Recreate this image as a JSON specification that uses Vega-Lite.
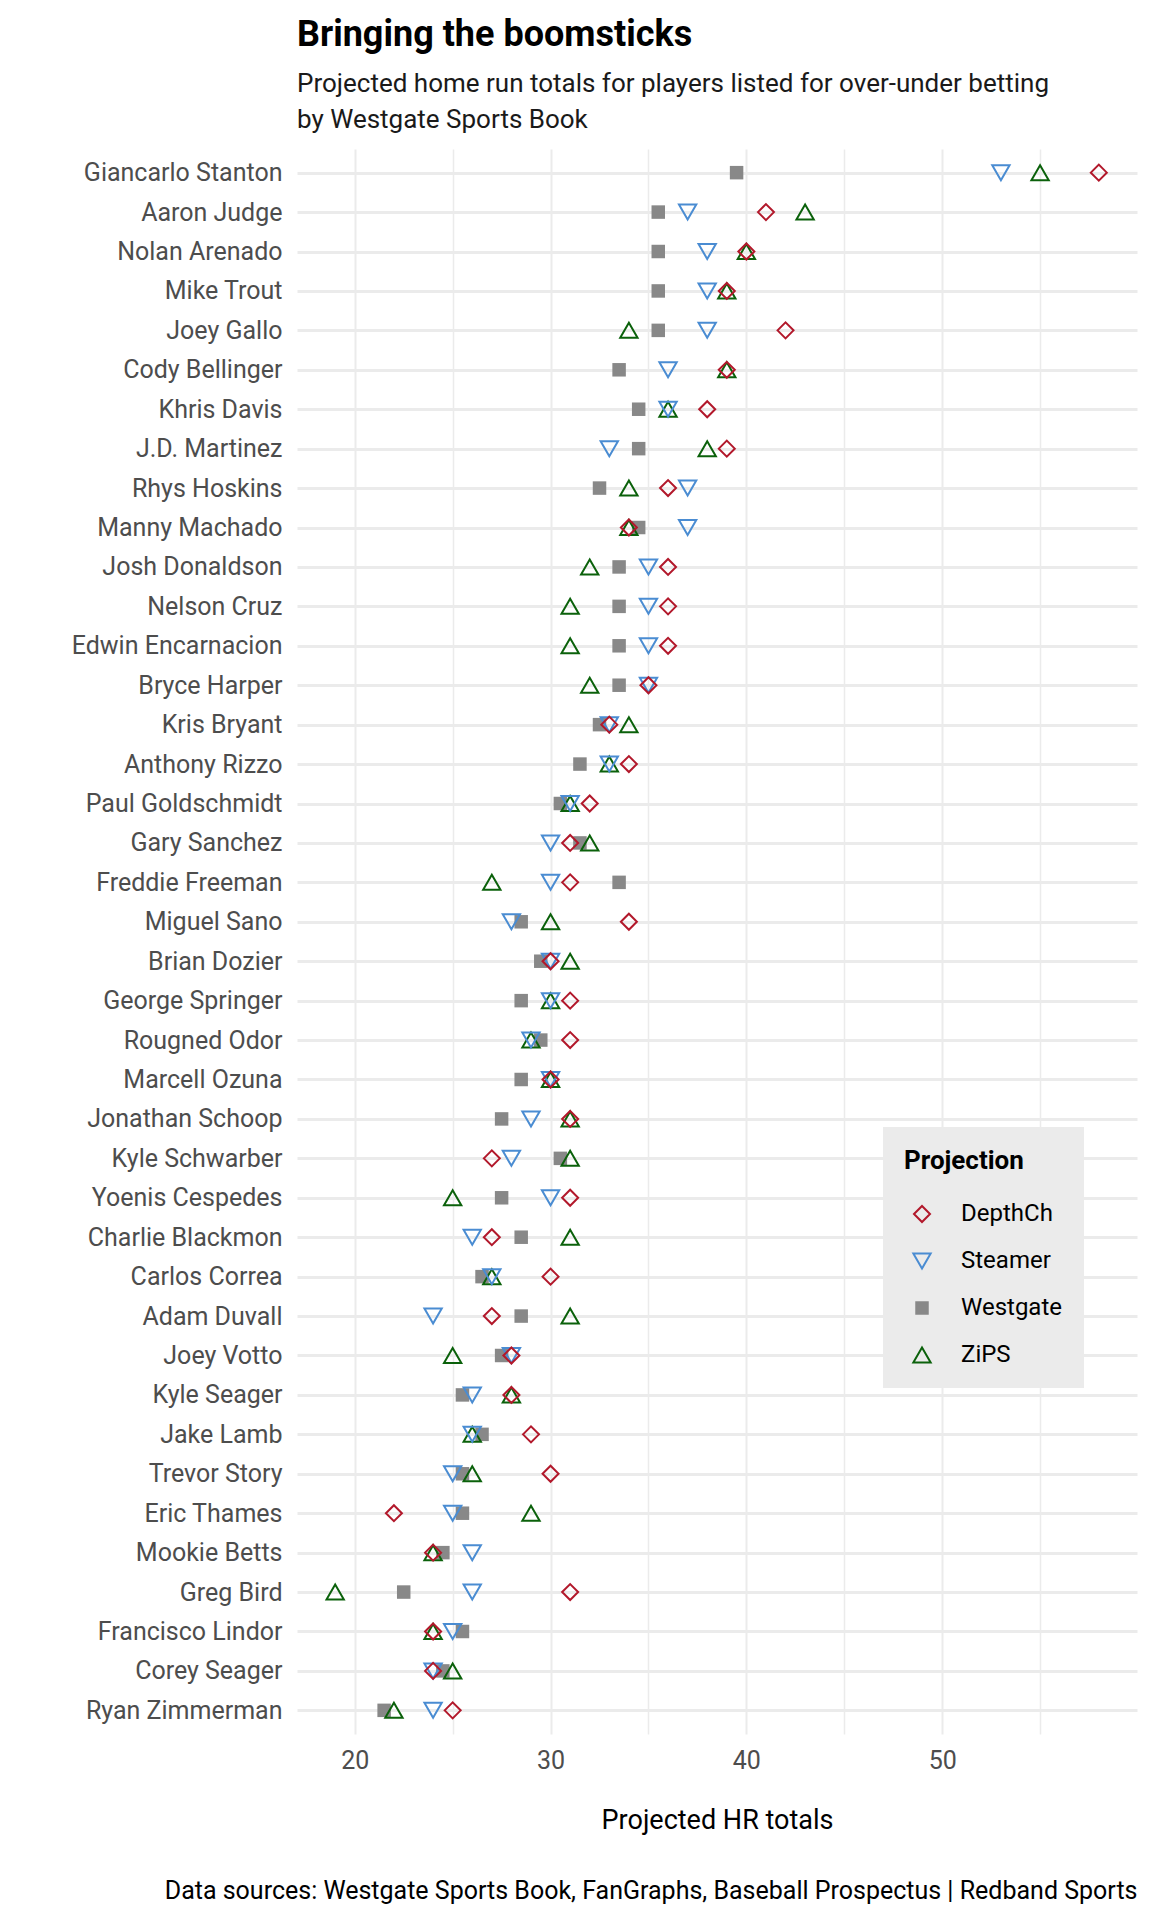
{
  "$schema": "https://vega.github.io/schema/vega-lite/v6.json",
  "width": 840,
  "height": 1585,
  "autosize": {"type": "none"},
  "padding": {"left": 297, "top": 149, "right": 15, "bottom": 186},
  "background": "white",
  "config": {
    "font": "Roboto, sans-serif",
    "view": {"stroke": null},
    "axis": {"domain": false, "ticks": false, "tickSize": 0, "labelFontSize": 25, "labelColor": "#4d4d4d", "gridColor": "#ebebeb", "labelLimit": 0}
  },
  "title": {
    "text": "Bringing the boomsticks",
    "subtitle": ["Projected home run totals for players listed for over-under betting", "by Westgate Sports Book"],
    "anchor": "start",
    "frame": "group",
    "fontSize": 36,
    "fontWeight": "bold",
    "color": "#000000",
    "subtitleFontSize": 26,
    "subtitleLineHeight": 36,
    "subtitleColor": "#1a1a1a",
    "subtitlePadding": 17,
    "offset": 15
  },
  "data": {"values": [
    {"player": "Giancarlo Stanton", "proj": "Westgate", "hr": 39.5},
    {"player": "Aaron Judge", "proj": "Westgate", "hr": 35.5},
    {"player": "Nolan Arenado", "proj": "Westgate", "hr": 35.5},
    {"player": "Mike Trout", "proj": "Westgate", "hr": 35.5},
    {"player": "Joey Gallo", "proj": "Westgate", "hr": 35.5},
    {"player": "Cody Bellinger", "proj": "Westgate", "hr": 33.5},
    {"player": "Khris Davis", "proj": "Westgate", "hr": 34.5},
    {"player": "J.D. Martinez", "proj": "Westgate", "hr": 34.5},
    {"player": "Rhys Hoskins", "proj": "Westgate", "hr": 32.5},
    {"player": "Manny Machado", "proj": "Westgate", "hr": 34.5},
    {"player": "Josh Donaldson", "proj": "Westgate", "hr": 33.5},
    {"player": "Nelson Cruz", "proj": "Westgate", "hr": 33.5},
    {"player": "Edwin Encarnacion", "proj": "Westgate", "hr": 33.5},
    {"player": "Bryce Harper", "proj": "Westgate", "hr": 33.5},
    {"player": "Kris Bryant", "proj": "Westgate", "hr": 32.5},
    {"player": "Anthony Rizzo", "proj": "Westgate", "hr": 31.5},
    {"player": "Paul Goldschmidt", "proj": "Westgate", "hr": 30.5},
    {"player": "Gary Sanchez", "proj": "Westgate", "hr": 31.5},
    {"player": "Freddie Freeman", "proj": "Westgate", "hr": 33.5},
    {"player": "Miguel Sano", "proj": "Westgate", "hr": 28.5},
    {"player": "Brian Dozier", "proj": "Westgate", "hr": 29.5},
    {"player": "George Springer", "proj": "Westgate", "hr": 28.5},
    {"player": "Rougned Odor", "proj": "Westgate", "hr": 29.5},
    {"player": "Marcell Ozuna", "proj": "Westgate", "hr": 28.5},
    {"player": "Jonathan Schoop", "proj": "Westgate", "hr": 27.5},
    {"player": "Kyle Schwarber", "proj": "Westgate", "hr": 30.5},
    {"player": "Yoenis Cespedes", "proj": "Westgate", "hr": 27.5},
    {"player": "Charlie Blackmon", "proj": "Westgate", "hr": 28.5},
    {"player": "Carlos Correa", "proj": "Westgate", "hr": 26.5},
    {"player": "Adam Duvall", "proj": "Westgate", "hr": 28.5},
    {"player": "Joey Votto", "proj": "Westgate", "hr": 27.5},
    {"player": "Kyle Seager", "proj": "Westgate", "hr": 25.5},
    {"player": "Jake Lamb", "proj": "Westgate", "hr": 26.5},
    {"player": "Trevor Story", "proj": "Westgate", "hr": 25.5},
    {"player": "Eric Thames", "proj": "Westgate", "hr": 25.5},
    {"player": "Mookie Betts", "proj": "Westgate", "hr": 24.5},
    {"player": "Greg Bird", "proj": "Westgate", "hr": 22.5},
    {"player": "Francisco Lindor", "proj": "Westgate", "hr": 25.5},
    {"player": "Corey Seager", "proj": "Westgate", "hr": 24.5},
    {"player": "Ryan Zimmerman", "proj": "Westgate", "hr": 21.5},
    {"player": "Giancarlo Stanton", "proj": "ZiPS", "hr": 55},
    {"player": "Aaron Judge", "proj": "ZiPS", "hr": 43},
    {"player": "Nolan Arenado", "proj": "ZiPS", "hr": 40},
    {"player": "Mike Trout", "proj": "ZiPS", "hr": 39},
    {"player": "Joey Gallo", "proj": "ZiPS", "hr": 34},
    {"player": "Cody Bellinger", "proj": "ZiPS", "hr": 39},
    {"player": "Khris Davis", "proj": "ZiPS", "hr": 36},
    {"player": "J.D. Martinez", "proj": "ZiPS", "hr": 38},
    {"player": "Rhys Hoskins", "proj": "ZiPS", "hr": 34},
    {"player": "Manny Machado", "proj": "ZiPS", "hr": 34},
    {"player": "Josh Donaldson", "proj": "ZiPS", "hr": 32},
    {"player": "Nelson Cruz", "proj": "ZiPS", "hr": 31},
    {"player": "Edwin Encarnacion", "proj": "ZiPS", "hr": 31},
    {"player": "Bryce Harper", "proj": "ZiPS", "hr": 32},
    {"player": "Kris Bryant", "proj": "ZiPS", "hr": 34},
    {"player": "Anthony Rizzo", "proj": "ZiPS", "hr": 33},
    {"player": "Paul Goldschmidt", "proj": "ZiPS", "hr": 31},
    {"player": "Gary Sanchez", "proj": "ZiPS", "hr": 32},
    {"player": "Freddie Freeman", "proj": "ZiPS", "hr": 27},
    {"player": "Miguel Sano", "proj": "ZiPS", "hr": 30},
    {"player": "Brian Dozier", "proj": "ZiPS", "hr": 31},
    {"player": "George Springer", "proj": "ZiPS", "hr": 30},
    {"player": "Rougned Odor", "proj": "ZiPS", "hr": 29},
    {"player": "Marcell Ozuna", "proj": "ZiPS", "hr": 30},
    {"player": "Jonathan Schoop", "proj": "ZiPS", "hr": 31},
    {"player": "Kyle Schwarber", "proj": "ZiPS", "hr": 31},
    {"player": "Yoenis Cespedes", "proj": "ZiPS", "hr": 25},
    {"player": "Charlie Blackmon", "proj": "ZiPS", "hr": 31},
    {"player": "Carlos Correa", "proj": "ZiPS", "hr": 27},
    {"player": "Adam Duvall", "proj": "ZiPS", "hr": 31},
    {"player": "Joey Votto", "proj": "ZiPS", "hr": 25},
    {"player": "Kyle Seager", "proj": "ZiPS", "hr": 28},
    {"player": "Jake Lamb", "proj": "ZiPS", "hr": 26},
    {"player": "Trevor Story", "proj": "ZiPS", "hr": 26},
    {"player": "Eric Thames", "proj": "ZiPS", "hr": 29},
    {"player": "Mookie Betts", "proj": "ZiPS", "hr": 24},
    {"player": "Greg Bird", "proj": "ZiPS", "hr": 19},
    {"player": "Francisco Lindor", "proj": "ZiPS", "hr": 24},
    {"player": "Corey Seager", "proj": "ZiPS", "hr": 25},
    {"player": "Ryan Zimmerman", "proj": "ZiPS", "hr": 22},
    {"player": "Giancarlo Stanton", "proj": "Steamer", "hr": 53},
    {"player": "Aaron Judge", "proj": "Steamer", "hr": 37},
    {"player": "Nolan Arenado", "proj": "Steamer", "hr": 38},
    {"player": "Mike Trout", "proj": "Steamer", "hr": 38},
    {"player": "Joey Gallo", "proj": "Steamer", "hr": 38},
    {"player": "Cody Bellinger", "proj": "Steamer", "hr": 36},
    {"player": "Khris Davis", "proj": "Steamer", "hr": 36},
    {"player": "J.D. Martinez", "proj": "Steamer", "hr": 33},
    {"player": "Rhys Hoskins", "proj": "Steamer", "hr": 37},
    {"player": "Manny Machado", "proj": "Steamer", "hr": 37},
    {"player": "Josh Donaldson", "proj": "Steamer", "hr": 35},
    {"player": "Nelson Cruz", "proj": "Steamer", "hr": 35},
    {"player": "Edwin Encarnacion", "proj": "Steamer", "hr": 35},
    {"player": "Bryce Harper", "proj": "Steamer", "hr": 35},
    {"player": "Kris Bryant", "proj": "Steamer", "hr": 33},
    {"player": "Anthony Rizzo", "proj": "Steamer", "hr": 33},
    {"player": "Paul Goldschmidt", "proj": "Steamer", "hr": 31},
    {"player": "Gary Sanchez", "proj": "Steamer", "hr": 30},
    {"player": "Freddie Freeman", "proj": "Steamer", "hr": 30},
    {"player": "Miguel Sano", "proj": "Steamer", "hr": 28},
    {"player": "Brian Dozier", "proj": "Steamer", "hr": 30},
    {"player": "George Springer", "proj": "Steamer", "hr": 30},
    {"player": "Rougned Odor", "proj": "Steamer", "hr": 29},
    {"player": "Marcell Ozuna", "proj": "Steamer", "hr": 30},
    {"player": "Jonathan Schoop", "proj": "Steamer", "hr": 29},
    {"player": "Kyle Schwarber", "proj": "Steamer", "hr": 28},
    {"player": "Yoenis Cespedes", "proj": "Steamer", "hr": 30},
    {"player": "Charlie Blackmon", "proj": "Steamer", "hr": 26},
    {"player": "Carlos Correa", "proj": "Steamer", "hr": 27},
    {"player": "Adam Duvall", "proj": "Steamer", "hr": 24},
    {"player": "Joey Votto", "proj": "Steamer", "hr": 28},
    {"player": "Kyle Seager", "proj": "Steamer", "hr": 26},
    {"player": "Jake Lamb", "proj": "Steamer", "hr": 26},
    {"player": "Trevor Story", "proj": "Steamer", "hr": 25},
    {"player": "Eric Thames", "proj": "Steamer", "hr": 25},
    {"player": "Mookie Betts", "proj": "Steamer", "hr": 26},
    {"player": "Greg Bird", "proj": "Steamer", "hr": 26},
    {"player": "Francisco Lindor", "proj": "Steamer", "hr": 25},
    {"player": "Corey Seager", "proj": "Steamer", "hr": 24},
    {"player": "Ryan Zimmerman", "proj": "Steamer", "hr": 24},
    {"player": "Giancarlo Stanton", "proj": "DepthCh", "hr": 58},
    {"player": "Aaron Judge", "proj": "DepthCh", "hr": 41},
    {"player": "Nolan Arenado", "proj": "DepthCh", "hr": 40},
    {"player": "Mike Trout", "proj": "DepthCh", "hr": 39},
    {"player": "Joey Gallo", "proj": "DepthCh", "hr": 42},
    {"player": "Cody Bellinger", "proj": "DepthCh", "hr": 39},
    {"player": "Khris Davis", "proj": "DepthCh", "hr": 38},
    {"player": "J.D. Martinez", "proj": "DepthCh", "hr": 39},
    {"player": "Rhys Hoskins", "proj": "DepthCh", "hr": 36},
    {"player": "Manny Machado", "proj": "DepthCh", "hr": 34},
    {"player": "Josh Donaldson", "proj": "DepthCh", "hr": 36},
    {"player": "Nelson Cruz", "proj": "DepthCh", "hr": 36},
    {"player": "Edwin Encarnacion", "proj": "DepthCh", "hr": 36},
    {"player": "Bryce Harper", "proj": "DepthCh", "hr": 35},
    {"player": "Kris Bryant", "proj": "DepthCh", "hr": 33},
    {"player": "Anthony Rizzo", "proj": "DepthCh", "hr": 34},
    {"player": "Paul Goldschmidt", "proj": "DepthCh", "hr": 32},
    {"player": "Gary Sanchez", "proj": "DepthCh", "hr": 31},
    {"player": "Freddie Freeman", "proj": "DepthCh", "hr": 31},
    {"player": "Miguel Sano", "proj": "DepthCh", "hr": 34},
    {"player": "Brian Dozier", "proj": "DepthCh", "hr": 30},
    {"player": "George Springer", "proj": "DepthCh", "hr": 31},
    {"player": "Rougned Odor", "proj": "DepthCh", "hr": 31},
    {"player": "Marcell Ozuna", "proj": "DepthCh", "hr": 30},
    {"player": "Jonathan Schoop", "proj": "DepthCh", "hr": 31},
    {"player": "Kyle Schwarber", "proj": "DepthCh", "hr": 27},
    {"player": "Yoenis Cespedes", "proj": "DepthCh", "hr": 31},
    {"player": "Charlie Blackmon", "proj": "DepthCh", "hr": 27},
    {"player": "Carlos Correa", "proj": "DepthCh", "hr": 30},
    {"player": "Adam Duvall", "proj": "DepthCh", "hr": 27},
    {"player": "Joey Votto", "proj": "DepthCh", "hr": 28},
    {"player": "Kyle Seager", "proj": "DepthCh", "hr": 28},
    {"player": "Jake Lamb", "proj": "DepthCh", "hr": 29},
    {"player": "Trevor Story", "proj": "DepthCh", "hr": 30},
    {"player": "Eric Thames", "proj": "DepthCh", "hr": 22},
    {"player": "Mookie Betts", "proj": "DepthCh", "hr": 24},
    {"player": "Greg Bird", "proj": "DepthCh", "hr": 31},
    {"player": "Francisco Lindor", "proj": "DepthCh", "hr": 24},
    {"player": "Corey Seager", "proj": "DepthCh", "hr": 24},
    {"player": "Ryan Zimmerman", "proj": "DepthCh", "hr": 25}
  ]},
  "layer": [
    {
      "mark": {"type": "point", "strokeWidth": 2, "opacity": 1},
      "encoding": {
        "y": {
          "field": "player", "type": "nominal",
          "scale": {"type": "point", "padding": 0.6, "domain": ["Giancarlo Stanton", "Aaron Judge", "Nolan Arenado", "Mike Trout", "Joey Gallo", "Cody Bellinger", "Khris Davis", "J.D. Martinez", "Rhys Hoskins", "Manny Machado", "Josh Donaldson", "Nelson Cruz", "Edwin Encarnacion", "Bryce Harper", "Kris Bryant", "Anthony Rizzo", "Paul Goldschmidt", "Gary Sanchez", "Freddie Freeman", "Miguel Sano", "Brian Dozier", "George Springer", "Rougned Odor", "Marcell Ozuna", "Jonathan Schoop", "Kyle Schwarber", "Yoenis Cespedes", "Charlie Blackmon", "Carlos Correa", "Adam Duvall", "Joey Votto", "Kyle Seager", "Jake Lamb", "Trevor Story", "Eric Thames", "Mookie Betts", "Greg Bird", "Francisco Lindor", "Corey Seager", "Ryan Zimmerman"]},
          "axis": {"title": null, "labelPadding": 15, "grid": true, "gridWidth": 3, "gridColor": "#ebebeb"}
        },
        "x": {
          "field": "hr", "type": "quantitative",
          "scale": {"domain": [17.05, 59.95], "nice": false, "zero": false},
          "axis": {"values": [20, 30, 40, 50], "grid": true, "gridWidth": 2, "labelPadding": 14, "title": "Projected HR totals", "titleFontSize": 27, "titleFontWeight": "normal", "titleColor": "#000000", "titleY": 94, "titleBaseline": "alphabetic"}
        },
        "stroke": {
          "field": "proj", "type": "nominal",
          "scale": {"domain": ["DepthCh", "Steamer", "Westgate", "ZiPS"], "range": ["#B2182B", "#4A8CD2", "transparent", "#0B610B"]},
          "legend": {"title": "Projection"}
        },
        "fill": {
          "field": "proj", "type": "nominal",
          "scale": {"domain": ["DepthCh", "Steamer", "Westgate", "ZiPS"], "range": ["transparent", "transparent", "#888888", "transparent"]},
          "legend": {"title": "Projection"}
        },
        "shape": {
          "field": "proj", "type": "nominal",
          "scale": {"domain": ["DepthCh", "Steamer", "Westgate", "ZiPS"], "range": ["diamond", "triangle-down", "square", "triangle-up"]},
          "legend": {"title": "Projection"}
        },
        "size": {
          "field": "proj", "type": "nominal",
          "scale": {"type": "ordinal", "domain": ["DepthCh", "Steamer", "Westgate", "ZiPS"], "range": [256, 300, 182, 300]},
          "legend": {
            "title": "Projection", "orient": "none", "legendX": 586, "legendY": 978,
            "fillColor": "#ebebeb", "padding": 21, "rowPadding": 23,
            "titleFontSize": 26, "titleFontWeight": "bold", "titleColor": "#000000", "titlePadding": 28,
            "labelFontSize": 24, "labelColor": "#000000", "symbolOffset": 6, "labelOffset": 27, "symbolStrokeWidth": 2
          }
        }
      }
    },
    {
      "mark": {"type": "point", "opacity": 0},
      "encoding": {
        "x": {
          "field": "hr", "type": "quantitative",
          "scale": {"domain": [17.05, 59.95], "nice": false, "zero": false},
          "axis": {"orient": "bottom", "values": [25, 35, 45, 55], "grid": true, "gridWidth": 1.5, "labels": false, "title": "Data sources: Westgate Sports Book, FanGraphs, Baseball Prospectus | Redband Sports", "titleFontSize": 25, "titleFontWeight": "normal", "titleColor": "#000000", "titleX": 840, "titleY": 164, "titleAlign": "right", "titleBaseline": "alphabetic"}
        }
      }
    }
  ],
  "resolve": {"axis": {"x": "independent"}}
}
